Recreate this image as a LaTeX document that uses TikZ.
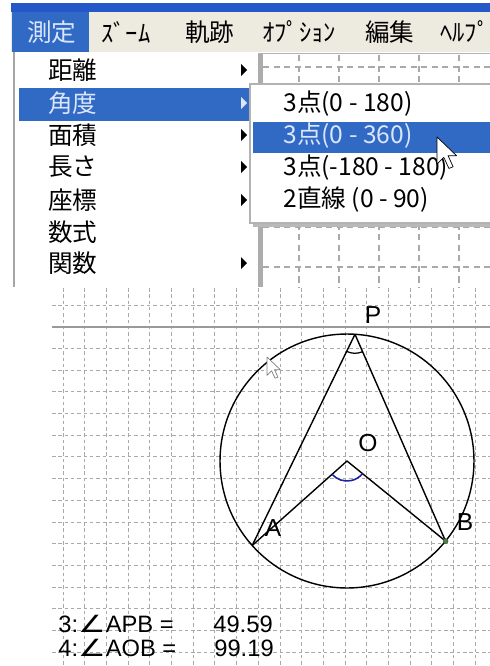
\documentclass[tikz,border=0pt]{standalone}
\usepackage{fontspec}
\setmainfont{Liberation Sans}
\newfontfamily\jpfont{Noto Sans CJK JP}
\newfontfamily\symfont{DejaVu Sans}
\usepackage{tikz}
\usetikzlibrary{angles}
\definecolor{barblue}{HTML}{2458C8}
\definecolor{selblue}{HTML}{316AC5}
\definecolor{menubg}{HTML}{EDEAE0}
\definecolor{seltext}{HTML}{DCE6FA}
\definecolor{gridgray}{HTML}{A9A9A9}
\definecolor{arcblue}{HTML}{1E22A8}
\definecolor{ptgreen}{HTML}{3C8A3C}

\begin{document}
\begin{tikzpicture}[x=0.02cm, y=-0.02cm,
  menuitem/.style={anchor=west, inner sep=0pt, font=\jpfont\fontsize{14}{16}\selectfont},
  gridline/.style={gridgray, line width=0.5pt, dash pattern=on 2pt off 1.6pt},
  biggrid/.style={gridgray, line width=0.6pt, dash pattern=on 3.5pt off 2.5pt},
  ptlabel/.style={inner sep=0pt, font=\fontsize{14}{16}\selectfont},
  resline/.style={ptlabel, anchor=west, font=\fontsize{13.5}{15}\selectfont},
  cursorpic/.pic={\draw[fill=white, line join=round] (0,0) -- (0,16) -- (4,12) -- (7,18.5) -- (9.5,17.5) -- (6.5,11) -- (11.5,11) -- cycle;}]
\useasboundingbox (0,0) rectangle (490,666);
\fill[white] (0,0) rectangle (490,666);

\begin{scope}
\clip (52,288) rectangle (490,666);
\foreach \i in {0,...,19}
  \draw[gridline] ({63+21.7*\i},288) -- ({63+21.7*\i},666);
\foreach \j in {0,...,16}
  \draw[gridline] (52,{305+21.7*\j}) -- (490,{305+21.7*\j});
\draw[gray!80, line width=0.6pt] (52,327) -- (490,327);
\end{scope}

\coordinate (O) at (347,461);
\coordinate (P) at ([shift={(86.4:2.54cm)}]O);
\coordinate (A) at ([shift={(221.7:2.54cm)}]O);
\coordinate (B) at ([shift={(320.9:2.54cm)}]O);
\draw[line width=0.8pt] (O) circle[radius=2.54cm];
\draw[line width=0.8pt, line join=bevel] (A) -- (P) -- (B);
\draw[line width=0.8pt, line join=bevel] (A) -- (O) -- (B);
\pic[draw, line width=0.7pt, angle radius=0.38cm] {angle=A--P--B};
\pic[draw=arcblue, line width=0.9pt, angle radius=0.4cm] {angle=A--O--B};
\filldraw[fill=ptgreen, draw=black!70, line width=0.3pt] (B) circle[radius=1.4pt];
\node[ptlabel] (labP) at (373,315) {P};
\node[ptlabel] (labO) at (368,443) {O};
\node[ptlabel] (labA) at (273,528) {A};
\node[ptlabel] (labB) at (465,522) {B};
\pic[draw=gray, scale=1.15] at (267,357) {cursorpic};

\node[resline] (resAPB) at (58,624) {3:{\symfont\scalebox{1.3}[1]{∠}}APB =};
\node[resline] (valAPB) at (213,624) {49.59};
\node[resline] (resAOB) at (58,648) {4:{\symfont\scalebox{1.3}[1]{∠}}AOB =};
\node[resline] (valAOB) at (214,648) {99.19};

\fill[white] (258,52) rectangle (490,287);
\foreach \i in {0,...,4}
  \draw[biggrid] ({299+40*\i},55) -- ({299+40*\i},287);
\foreach \j in {0,...,5}
  \draw[biggrid] (263,{67+40*\j}) -- (490,{67+40*\j});
\draw[gray!60, line width=0.8pt] (258,53.5) -- (490,53.5);
\fill[gray!65] (258,54) rectangle (263,287);

\fill[barblue] (11,3) rectangle (490,12);
\fill[menubg] (11,12) rectangle (490,52);
\fill[selblue] (12,12) rectangle (89,52);
\node[menuitem, text=seltext] (mSokutei) at (27,32) {測定};
\node[menuitem] (mZoom) at (101,32) {ｽﾞｰﾑ};
\node[menuitem] (mKiseki) at (185,32) {軌跡};
\node[menuitem] (mOption) at (262,32) {ｵﾌﾟｼｮﾝ};
\node[menuitem] (mHenshu) at (365,32) {編集};
\node[menuitem] (mHelp) at (440,32) {ﾍﾙﾌﾟ};

\fill[white] (12,52) rectangle (258,287);
\draw[gray!70, line width=1pt] (14,52) -- (14,287);
\fill[selblue] (19,88) rectangle (250,121);
\node[menuitem] (dKyori) at (48,70) {距離};
\node[menuitem, text=seltext] (dKakudo) at (48,103) {角度};
\node[menuitem] (dMenseki) at (48,135) {面積};
\node[menuitem] (dNagasa) at (48,167) {長さ};
\node[menuitem] (dZahyo) at (48,200) {座標};
\node[menuitem] (dSushiki) at (48,232) {数式};
\node[menuitem] (dKansu) at (48,263) {関数};
\foreach \y in {70,135,167,200,263}
  \fill (241,\y-6) -- (247,\y) -- (241,\y+6) -- cycle;
\fill[seltext] (241,97) -- (247,103) -- (241,109) -- cycle;

\fill[gray!55] (253,87) rectangle (490,227);
\fill[white] (250,84) rectangle (490,223);
\draw[gray!60, line width=0.6pt] (490,84) -- (250,84) -- (250,223) -- (490,223);
\fill[selblue] (253,122) rectangle (490,153);
\node[menuitem] (sAngle180) at (283,104) {3点(0 - 180)};
\node[menuitem, text=seltext] (sAngle360) at (283,136) {3点(0 - 360)};
\node[menuitem] (sAngleSym) at (283,168) {3点(-180 - 180)};
\node[menuitem] (sTwoLines) at (283,200) {2直線 (0 - 90)};
\pic[draw=black, scale=1.7] at (437,137) {cursorpic};
\end{tikzpicture}
\end{document}
